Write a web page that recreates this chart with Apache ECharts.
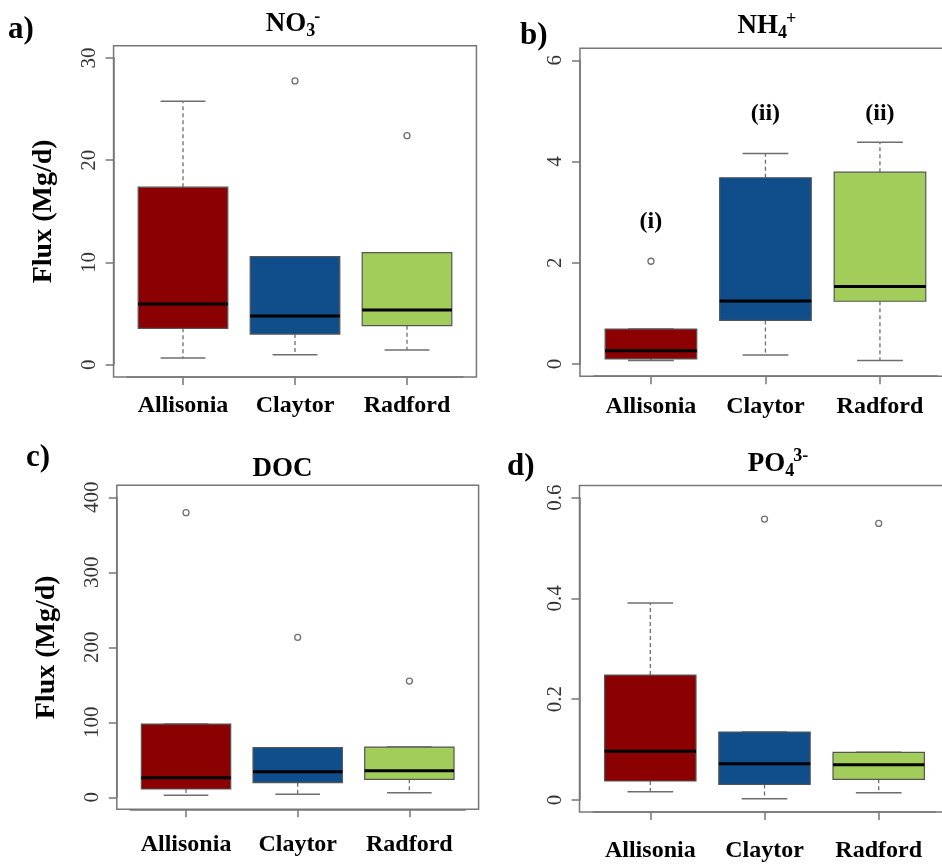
<!DOCTYPE html>
<html>
<head>
<meta charset="utf-8">
<script src="https://cdn.jsdelivr.net/npm/echarts@6/dist/echarts.min.js"></script>
<style>
  html, body { margin: 0; padding: 0; background: #fff; }
  #chart { width: 942px; height: 865px; }
</style>
</head>
<body>
<div id="chart"></div>
<script>
// Sites along the river
const sites = ['Allisonia', 'Claytor', 'Radford'];

// Five-number summaries per site: [lower whisker, Q1, median, Q3, upper whisker]
const no3Boxes = [
  [0.66, 3.56, 5.94, 17.36, 25.77],
  [0.98, 3.00, 4.77, 10.57, 10.57],
  [1.44, 3.82, 5.35, 10.96, 10.96]
];
const no3Outliers = [[1, 27.76], [2, 22.4]];

const nh4Boxes = [
  [0.07, 0.10, 0.26, 0.69, 0.69],
  [0.18, 0.86, 1.245, 3.68, 4.16],
  [0.07, 1.24, 1.53, 3.79, 4.38]
];
const nh4Outliers = [[0, 2.03]];
const nh4Groups = ['(i)', '(ii)', '(ii)'];
const nh4GroupAt = [2.8, 4.95, 4.95];

const docBoxes = [
  [2.7, 11.1, 26.2, 97.7, 97.7],
  [4.0, 19.5, 34.2, 66.2, 66.2],
  [6.2, 24.0, 35.5, 67.0, 67.0]
];
const docOutliers = [[0, 379.5], [1, 213.3], [2, 155]];

const po4Boxes = [
  [0.0165, 0.0377, 0.0966, 0.248, 0.391],
  [0.0026, 0.031, 0.072, 0.135, 0.135],
  [0.0145, 0.041, 0.070, 0.0946, 0.0946]
];
const po4Outliers = [[1, 0.5575], [2, 0.549]];

// Y-axis limits and tick steps
const no3Axis = { min: 0, max: 30, step: 10 };
const nh4Axis = { min: 0, max: 6, step: 2 };
const docAxis = { min: 0, max: 400, step: 100 };
const po4Axis = { min: 0, max: 0.6, step: 0.2 };

const siteColors = ['#8B0000', '#104E8B', '#A2CD5A'];
const SERIF = '"Liberation Serif", "Times New Roman", serif';
const FRAME = '#777777';

// Inner plotting regions (data range); the drawn frame extends 4% beyond each side
const panels = [
  { left: 127,   top: 58,    width: 336,   height: 306.7, xMargin: 17, name: true },
  { left: 593.7, top: 60.3,  width: 343.5, height: 303.7, xMargin: 19, name: false },
  { left: 130.2, top: 497.3, width: 335,   height: 300,   xMargin: 23, name: true },
  { left: 593.2, top: 497.7, width: 342.6, height: 302.3, xMargin: 27, name: false }
];
const axes = [no3Axis, nh4Axis, docAxis, po4Axis];
const boxSets = [no3Boxes, nh4Boxes, docBoxes, po4Boxes];
const outlierSets = [no3Outliers, nh4Outliers, docOutliers, po4Outliers];

function renderBox(params, api) {
  const i = api.value(0);
  const lo = api.value(1), q1 = api.value(2), md = api.value(3), q3 = api.value(4), hi = api.value(5);
  const x = api.coord([i, md])[0];
  const band = api.size([1, 0])[0];
  const half = band * 0.4, cap = band * 0.2;
  const y = v => api.coord([i, v])[1];
  const whisker = { stroke: '#6e6e6e', lineWidth: 1.3, lineDash: [4, 3] };
  const staple = { stroke: '#6e6e6e', lineWidth: 1.5 };
  const children = [];
  if (hi > q3) children.push({ type: 'line', shape: { x1: x, y1: y(q3), x2: x, y2: y(hi) }, style: whisker });
  if (lo < q1) children.push({ type: 'line', shape: { x1: x, y1: y(q1), x2: x, y2: y(lo) }, style: whisker });
  children.push({ type: 'line', shape: { x1: x - cap, y1: y(hi), x2: x + cap, y2: y(hi) }, style: staple });
  children.push({ type: 'line', shape: { x1: x - cap, y1: y(lo), x2: x + cap, y2: y(lo) }, style: staple });
  children.push({
    type: 'rect',
    shape: { x: x - half, y: y(q3), width: 2 * half, height: y(q1) - y(q3) },
    style: { fill: siteColors[i], stroke: '#555555', lineWidth: 1.2 }
  });
  children.push({ type: 'line', shape: { x1: x - half, y1: y(md), x2: x + half, y2: y(md) }, style: { stroke: '#000', lineWidth: 3 } });
  return { type: 'group', children };
}

const grid = [], xAxis = [], yAxis = [], series = [], graphic = [];

panels.forEach((p, k) => {
  const dx = p.width * 0.04, dy = p.height * 0.04;
  grid.push({ left: p.left, top: p.top, width: p.width, height: p.height, containLabel: false });
  xAxis.push({
    type: 'category', gridIndex: k, data: sites, offset: dy,
    axisLine: { show: true, onZero: false, lineStyle: { color: FRAME, width: 1.5 } },
    axisTick: { show: true, alignWithLabel: true, length: 8, lineStyle: { color: FRAME, width: 1.5 } },
    axisLabel: { interval: 0, margin: p.xMargin, color: '#000', fontFamily: SERIF, fontWeight: 'bold', fontSize: 24 }
  });
  const ax = axes[k];
  yAxis.push({
    type: 'value', gridIndex: k, min: ax.min, max: ax.max, interval: ax.step, offset: dx,
    splitLine: { show: false },
    axisLine: { show: true, onZero: false, lineStyle: { color: FRAME, width: 1.5 } },
    axisTick: { show: true, length: 8, lineStyle: { color: FRAME, width: 1.5 } },
    axisLabel: { rotate: 90, margin: 14, color: '#333', fontFamily: SERIF, fontSize: 21 },
    name: p.name ? 'Flux (Mg/d)' : '',
    nameLocation: 'middle', nameRotate: 90, nameGap: 56,
    nameTextStyle: { color: '#000', fontFamily: SERIF, fontWeight: 'bold', fontSize: 28 }
  });
  series.push({
    type: 'custom', xAxisIndex: k, yAxisIndex: k, renderItem: renderBox,
    encode: { x: 0, y: [1, 2, 3, 4, 5] },
    data: boxSets[k].map((b, i) => [i].concat(b)), z: 2
  });
  series.push({
    type: 'scatter', xAxisIndex: k, yAxisIndex: k, symbol: 'circle', symbolSize: 6,
    itemStyle: { color: '#fff', borderColor: '#707070', borderWidth: 1.3, opacity: 1 },
    data: outlierSets[k], z: 3
  });
  graphic.push({
    type: 'rect', silent: true, z: 10,
    shape: { x: p.left - dx, y: p.top - dy, width: p.width + 2 * dx, height: p.height + 2 * dy },
    style: { fill: 'none', stroke: FRAME, lineWidth: 1.5 }
  });
});

// Significance groups for ammonium
series.push({
  type: 'scatter', xAxisIndex: 1, yAxisIndex: 1, symbolSize: 0,
  itemStyle: { opacity: 1 },
  label: { show: true, position: 'inside', formatter: d => d.name, color: '#000', fontFamily: SERIF, fontWeight: 'bold', fontSize: 24 },
  data: nh4Groups.map((g, i) => ({ name: g, value: [i, nh4GroupAt[i]] })), z: 4
});

// Panel letters
[['a)', 8, 14], ['b)', 520, 20], ['c)', 26, 442], ['d)', 507, 451]].forEach(([t, x, y]) => {
  graphic.push({ type: 'text', x, y, style: { text: t, fill: '#000', font: 'bold 31px ' + SERIF } });
});

// Panel titles: main text, then subscript and superscript on their own baselines
const ctx = document.createElement('canvas').getContext('2d');
const MAIN_SIZE = 27, SMALL_SIZE = 18;
const MAIN_FONT = 'bold ' + MAIN_SIZE + 'px ' + SERIF, SMALL_FONT = 'bold ' + SMALL_SIZE + 'px ' + SERIF;
function measure(t, f) { ctx.font = f; return ctx.measureText(t).width; }
// text elements are top-anchored; the glyph baseline sits about 0.72 em below the top
const topFromBase = (base, size) => base - 0.72 * size;
const titles = [
  { main: 'NO', sub: '3', sup: '-', cx: 293, base: 30 },
  { main: 'NH', sub: '4', sup: '+', cx: 767, base: 32 },
  { main: 'DOC', sub: '', sup: '', cx: 282.5, base: 475 },
  { main: 'PO', sub: '4', sup: '3-', cx: 778, base: 469.5 }
];
titles.forEach(t => {
  const wm = measure(t.main, MAIN_FONT), ws = measure(t.sub, SMALL_FONT), wp = measure(t.sup, SMALL_FONT);
  const supX = t.sub ? ws - 1 : 0;
  const total = wm + Math.max(ws, supX + wp);
  const x0 = t.cx - total / 2;
  const parts = [{ text: t.main, x: x0, y: topFromBase(t.base, MAIN_SIZE), font: MAIN_FONT }];
  if (t.sub) parts.push({ text: t.sub, x: x0 + wm, y: topFromBase(t.base + 5.5, SMALL_SIZE), font: SMALL_FONT });
  if (t.sup) parts.push({ text: t.sup, x: x0 + wm + supX, y: topFromBase(t.base - 9, SMALL_SIZE), font: SMALL_FONT });
  parts.forEach(q => graphic.push({
    type: 'text', x: q.x, y: q.y,
    style: { text: q.text, font: q.font, fill: '#000', textAlign: 'left', textVerticalAlign: 'top' }
  }));
});

const chart = echarts.init(document.getElementById('chart'), null, { renderer: 'canvas' });
chart.setOption({
  animation: false,
  backgroundColor: '#fff',
  grid, xAxis, yAxis, series, graphic
});
</script>
</body>
</html>
